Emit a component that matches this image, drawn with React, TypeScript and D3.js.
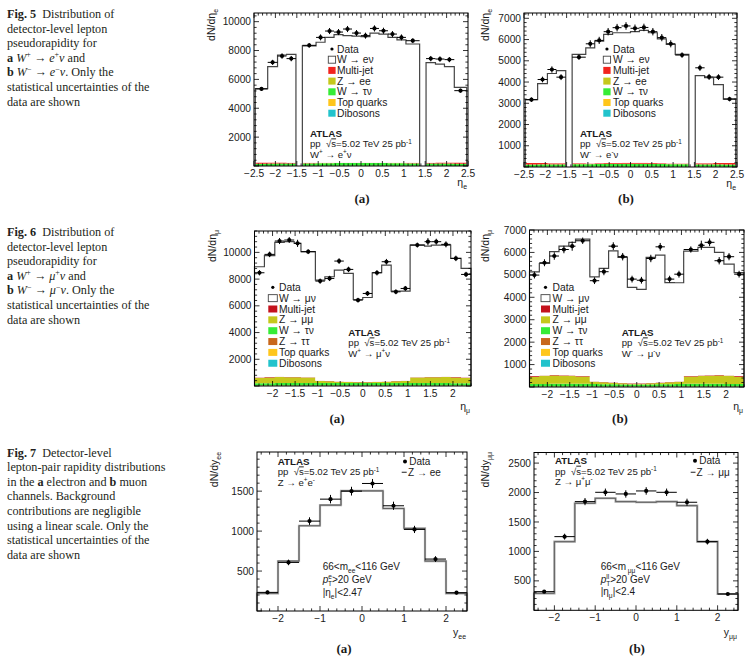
import * as d3 from 'd3'
import React from 'react'

// ---------- binning ----------
const eLo = [-2.47, -2.18, -1.95, -1.74, -1.37, -1.05, -0.84, -0.63, -0.42, -0.21, 0, 0.21, 0.42, 0.63, 0.84, 1.05, 1.52, 1.74, 1.95, 2.18]
const eHi = [-2.18, -1.95, -1.74, -1.52, -1.05, -0.84, -0.63, -0.42, -0.21, 0, 0.21, 0.42, 0.63, 0.84, 1.05, 1.37, 1.74, 1.95, 2.18, 2.47]
const muEdges = [-2.4, -2.18, -1.95, -1.74, -1.52, -1.37, -1.05, -0.84, -0.63, -0.42, -0.21, 0, 0.21, 0.42, 0.63, 0.84, 1.05, 1.37, 1.52, 1.74, 1.95, 2.18, 2.4]
const zEdges = [-2.5, -2, -1.5, -1, -0.5, 0, 0.5, 1, 1.5, 2, 2.5]

// ---------- Fig 5a  W+ -> e+ nu ----------
const ePlusData = [5340, 7180, 7620, 7440, 8360, 8910, 9350, 9280, 9490, 9210, 9030, 9530, 9370, 9140, 8910, 8680, 7440, 7410, 7370, 5220]
const ePlusSignal = [5110, 6640, 7450, 7510, 8100, 8350, 8680, 8870, 8800, 8770, 8730, 8980, 8910, 8680, 8510, 8230, 6930, 6820, 6640, 5200]
const ePlusMultijet = [90, 70, 60, 50, 30, 25, 25, 20, 20, 20, 20, 20, 20, 25, 25, 30, 50, 60, 70, 90]
const ePlusZee = [20, 15, 12, 10, 10, 8, 8, 8, 8, 8, 8, 8, 8, 8, 8, 10, 10, 12, 15, 20]
const ePlusWtau = [130, 150, 160, 160, 170, 180, 185, 190, 190, 190, 190, 190, 190, 185, 180, 170, 160, 160, 150, 130]
const ePlusTop = [4, 5, 6, 6, 8, 9, 10, 10, 10, 10, 10, 10, 10, 10, 9, 8, 6, 6, 5, 4]
const ePlusDib = [2, 2, 3, 3, 3, 3, 3, 3, 3, 3, 3, 3, 3, 3, 3, 3, 3, 3, 2, 2]

// ---------- Fig 5b  W- -> e- nu ----------
const eMinusData = [3170, 4120, 4590, 4230, 5170, 5800, 5960, 6370, 6560, 6640, 6530, 6570, 6370, 6090, 5800, 5270, 4670, 4240, 4230, 3200]
const eMinusSignal = [2980, 3740, 4220, 4365, 5130, 5440, 5755, 6055, 6130, 6125, 6170, 6235, 6130, 5850, 5600, 5135, 4125, 4020, 3690, 3010]
const eMinusMultijet = [70, 60, 50, 45, 35, 30, 30, 35, 40, 45, 50, 45, 40, 35, 30, 30, 45, 50, 60, 70]
const eMinusZee = [15, 12, 10, 8, 8, 6, 6, 6, 6, 6, 6, 6, 6, 6, 6, 8, 8, 10, 12, 15]
const eMinusWtau = [100, 110, 115, 115, 120, 125, 130, 135, 135, 135, 135, 135, 135, 130, 125, 120, 115, 115, 110, 100]
const eMinusTop = [3, 4, 5, 5, 6, 7, 7, 8, 8, 8, 8, 8, 8, 7, 7, 6, 5, 5, 4, 3]
const eMinusDib = [2, 2, 2, 2, 2, 2, 2, 2, 2, 2, 2, 2, 2, 2, 2, 2, 2, 2, 2, 2]

// ---------- Fig 6a  W+ -> mu+ nu ----------
const muPlusData = [8475, 9850, 10850, 10925, 10675, 10050, 7850, 8050, 9350, 8725, 6425, 6925, 8475, 9300, 7050, 7300, 10550, 10800, 10800, 10600, 9550, 8350]
const muPlusSignal = [8295, 9080, 10065, 10120, 10005, 9400, 7530, 7810, 8335, 8105, 6170, 6320, 8155, 8710, 6735, 6705, 9900, 9805, 9870, 9865, 8880, 8170]
const muPlusMultijet = [30, 25, 20, 20, 20, 20, 15, 15, 15, 15, 15, 15, 15, 15, 15, 15, 20, 20, 20, 20, 25, 30]
const muPlusZmm = [400, 430, 440, 430, 420, 400, 150, 120, 100, 80, 70, 70, 80, 100, 120, 150, 400, 420, 430, 440, 430, 400]
const muPlusWtau = [170, 185, 195, 200, 200, 200, 200, 200, 195, 195, 190, 190, 195, 195, 200, 200, 200, 200, 200, 195, 185, 170]
const muPlusZtt = [15, 15, 15, 15, 15, 15, 15, 15, 15, 15, 15, 15, 15, 15, 15, 15, 15, 15, 15, 15, 15, 15]
const muPlusTop = [10, 10, 10, 10, 10, 10, 10, 10, 10, 10, 10, 10, 10, 10, 10, 10, 10, 10, 10, 10, 10, 10]
const muPlusDib = [5, 5, 5, 5, 5, 5, 5, 5, 5, 5, 5, 5, 5, 5, 5, 5, 5, 5, 5, 5, 5, 5]

// ---------- Fig 6b  W- -> mu- nu ----------
const muMinusData = [4990, 5540, 5840, 6130, 6280, 6520, 4740, 5140, 6280, 5810, 4810, 4760, 5730, 6250, 4810, 5030, 6130, 6320, 6450, 5630, 5810, 5030]
const muMinusSignal = [4650, 4990, 5500, 5760, 5940, 6100, 4660, 5070, 5870, 5600, 4280, 4190, 5600, 5680, 4430, 4400, 5570, 5710, 5700, 5470, 4960, 4610]
const muMinusMultijet = [25, 20, 20, 20, 20, 20, 15, 15, 15, 15, 15, 15, 15, 15, 15, 15, 20, 20, 20, 20, 20, 25]
const muMinusZmm = [330, 360, 370, 360, 350, 330, 100, 80, 60, 45, 35, 35, 45, 60, 80, 100, 330, 350, 360, 370, 360, 330]
const muMinusWtau = [110, 115, 120, 120, 120, 120, 110, 105, 100, 95, 90, 90, 95, 100, 105, 110, 120, 120, 120, 120, 115, 110]
const muMinusZtt = [10, 10, 10, 10, 10, 10, 10, 10, 10, 10, 10, 10, 10, 10, 10, 10, 10, 10, 10, 10, 10, 10]
const muMinusTop = [8, 8, 8, 8, 8, 8, 8, 8, 8, 8, 8, 8, 8, 8, 8, 8, 8, 8, 8, 8, 8, 8]
const muMinusDib = [4, 4, 4, 4, 4, 4, 4, 4, 4, 4, 4, 4, 4, 4, 4, 4, 4, 4, 4, 4, 4, 4]

// ---------- Fig 7  Z rapidity ----------
const zeeData = [233, 608, 1125, 1400, 1500, 1596, 1317, 1021, 650, 229]
const zeeMC = [221, 625, 1067, 1325, 1504, 1504, 1283, 1033, 625, 221]
const zmmData = [317, 1251, 1846, 2004, 1976, 2027, 2004, 1835, 1166, 277]
const zmmMC = [289, 1166, 1818, 1903, 1846, 1835, 1846, 1778, 1166, 277]

const COL = {
  mj5: '#f2241e',
  mj6: '#c4121c',
  zll: '#c5c81c',
  wtau: '#36ec36',
  ztt: '#c8671c',
  top: '#ffc61c',
  dib: '#22c3cc',
}

const SANS = 'Liberation Sans, Arial, sans-serif'
const SERIF = 'Liberation Serif, Times New Roman, serif'
const INK = '#1a1a1a'

// ---------- rich text ----------
type Seg = { t: string; s?: 'sup' | 'sub'; b?: boolean; i?: boolean; o?: boolean; dx?: number }

function Rich({
  x, y, segs, size, anchor, transform, family = SANS, weight, fill = INK,
}: {
  x?: number; y?: number; segs: Seg[]; size: number; anchor?: string; transform?: string
  family?: string; weight?: string; fill?: string
}) {
  let cur = 0
  return (
    <text x={x} y={y} fontSize={size} textAnchor={anchor} transform={transform}
      fontFamily={family} fontWeight={weight} fill={fill} style={{ whiteSpace: 'pre' }}>
      {segs.map((g, k) => {
        const target = g.s === 'sup' ? -size * 0.4 : g.s === 'sub' ? size * 0.3 : 0
        const dy = target - cur
        cur = target
        return (
          <tspan key={k} dy={dy} dx={g.dx} fontSize={g.s ? size * 0.66 : undefined}
            fontWeight={g.b ? 'bold' : undefined} fontStyle={g.i ? 'italic' : undefined}
            textDecoration={g.o ? 'overline' : undefined}>{g.t}</tspan>
        )
      })}
    </text>
  )
}

// ---------- helpers ----------
function edgesLo(e: number[]) { return e.slice(0, -1) }
function edgesHi(e: number[]) { return e.slice(1) }

function segmentsOf(lo: number[], hi: number[]) {
  const segs: number[][] = []
  lo.forEach((l, i) => {
    if (i === 0 || Math.abs(l - hi[i - 1]) > 1e-6) segs.push([])
    segs[segs.length - 1].push(i)
  })
  return segs
}

function tickVals(d0: number, d1: number, step: number) {
  const out: number[] = []
  const k0 = Math.ceil(d0 / step - 1e-9)
  const k1 = Math.floor(d1 / step + 1e-9)
  for (let k = k0; k <= k1; k++) out.push(+(k * step).toFixed(6))
  return out
}

const fmtX = (v: number) => (v < 0 ? '\u2212' : '') + String(+Math.abs(v).toFixed(2))

type Layer = { color: string; values: number[] }

type PanelProps = {
  x0: number; x1: number; y0: number; y1: number
  xDomain: [number, number]; yDomain: [number, number]
  xMajor: number; xMinor: number; yMajor: number; yMinor: number
  lo: number[]; hi: number[]
  layers: Layer[]
  mc: number[]
  data: number[]
  zStyle?: boolean
  yTitle: Seg[]; yTitleX: number; yTitleY: number
  xTitle: Seg[]; xTitleY: number
  label: string; labelX: number; labelY: number
  children?: React.ReactNode
}

function Panel(p: PanelProps) {
  const x = d3.scaleLinear().domain(p.xDomain).range([p.x0, p.x1])
  const y = d3.scaleLinear().domain(p.yDomain).range([p.y1, p.y0])
  const segs = segmentsOf(p.lo, p.hi)

  // stacked backgrounds, bottom to top
  const n = p.lo.length
  let lower = new Array(n).fill(0)
  const bands: { d: string; color: string }[] = []
  const band = (low: number[], up: number[]) => {
    let d = ''
    segs.forEach((s) => {
      const pts: string[] = []
      s.forEach((i) => { pts.push(`${x(p.lo[i])},${y(up[i])}`, `${x(p.hi[i])},${y(up[i])}`) })
      ;[...s].reverse().forEach((i) => { pts.push(`${x(p.hi[i])},${y(low[i])}`, `${x(p.lo[i])},${y(low[i])}`) })
      d += 'M' + pts.join('L') + 'Z'
    })
    return d
  }
  p.layers.forEach((l) => {
    const upper = lower.map((v, i) => v + l.values[i])
    bands.push({ d: band(lower, upper), color: l.color })
    lower = upper
  })
  const total = p.zStyle ? p.mc : lower.map((v, i) => v + p.mc[i])
  const signalBand = p.zStyle ? '' : band(lower, total)

  let line = ''
  segs.forEach((s) => {
    line += `M${x(p.lo[s[0]])},${y(0)}`
    s.forEach((i) => { line += `L${x(p.lo[i])},${y(total[i])}L${x(p.hi[i])},${y(total[i])}` })
    line += `L${x(p.hi[s[s.length - 1]])},${y(0)}`
  })

  const xMaj = tickVals(p.xDomain[0], p.xDomain[1], p.xMajor)
  const xMin = tickVals(p.xDomain[0], p.xDomain[1], p.xMinor)
  const yMaj = tickVals(p.yDomain[0], p.yDomain[1], p.yMajor)
  const yMin = tickVals(p.yDomain[0], p.yDomain[1], p.yMinor)
  const L = 5, l = 2.6

  return (
    <g>
      {bands.map((b, i) => <path key={i} d={b.d} fill={b.color} />)}
      {signalBand && <path d={signalBand} fill="#fff" />}
      {p.zStyle ? (
        <g fill="none">
          <path d={line} stroke="#a4a4a4" strokeWidth={2.2} />
          <path d={line} stroke="#505050" strokeWidth={0.8} />
        </g>
      ) : (
        <path d={line} fill="none" stroke="#444" strokeWidth={1.2} />
      )}
      {/* data */}
      <g stroke="#000" strokeWidth={1}>
        {p.data.map((v, i) => {
          const w = p.hi[i] - p.lo[i]
          const err = Math.sqrt(v / w)
          const cx = x((p.lo[i] + p.hi[i]) / 2)
          return (
            <g key={i}>
              <line x1={x(p.lo[i])} x2={x(p.hi[i])} y1={y(v)} y2={y(v)} />
              <line x1={cx} x2={cx} y1={y(v - err)} y2={y(v + err)} />
              <circle cx={cx} cy={y(v)} r={2.1} fill="#000" stroke="none" />
            </g>
          )
        })}
      </g>
      {/* frame and ticks */}
      <rect x={p.x0} y={p.y0} width={p.x1 - p.x0} height={p.y1 - p.y0} fill="none" stroke="#000" strokeWidth={1} />
      <g stroke="#000" strokeWidth={0.8}>
        {xMin.map((v, i) => {
          const len = xMaj.includes(v) ? L : l
          return (
            <g key={'x' + i}>
              <line x1={x(v)} x2={x(v)} y1={p.y1} y2={p.y1 - len} />
              <line x1={x(v)} x2={x(v)} y1={p.y0} y2={p.y0 + len} />
            </g>
          )
        })}
        {yMin.map((v, i) => {
          const len = yMaj.includes(v) ? L : l
          return (
            <g key={'y' + i}>
              <line x1={p.x0} x2={p.x0 + len} y1={y(v)} y2={y(v)} />
              <line x1={p.x1} x2={p.x1 - len} y1={y(v)} y2={y(v)} />
            </g>
          )
        })}
      </g>
      <g fontFamily={SANS} fontSize={10.2} fill={INK}>
        {xMaj.map((v) => (
          <text key={v} x={x(v)} y={p.y1 + 10.5} textAnchor="middle">{fmtX(v)}</text>
        ))}
        {yMaj.filter((v) => v > 0).map((v) => (
          <text key={v} x={p.x0 - 3} y={y(v) + 3.6} textAnchor="end">{v}</text>
        ))}
      </g>
      <Rich segs={p.yTitle} size={10.5} anchor="end"
        transform={`translate(${p.yTitleX},${p.yTitleY}) rotate(-90)`} />
      <Rich segs={p.xTitle} size={10.5} anchor="end" x={p.x1 - 1} y={p.xTitleY} />
      <text x={p.labelX} y={p.labelY} textAnchor="middle" fontFamily={SERIF} fontWeight="bold"
        fontSize={13} fill={INK}>{p.label}</text>
      {p.children}
    </g>
  )
}

type LegendEntry = { kind: 'data' | 'box'; color?: string; text: string }

function StackLegend({ bx, tx, yc, dy, bw, bh, entries }: {
  bx: number; tx: number; yc: number; dy: number; bw: number; bh: number; entries: LegendEntry[]
}) {
  return (
    <g fontFamily={SANS} fontSize={10.3} fill={INK}>
      {entries.map((e, i) => {
        const cy = yc + i * dy
        return (
          <g key={i}>
            {e.kind === 'data' ? (
              <circle cx={bx + bw / 2} cy={cy} r={1.6} fill="#000" />
            ) : (
              <rect x={bx} y={cy - bh / 2} width={bw} height={bh} fill={e.color ?? '#fff'}
                stroke={e.color ? 'none' : '#444'} strokeWidth={0.9} />
            )}
            <text x={tx} y={cy + 3.6} style={{ whiteSpace: 'pre' }}>{e.text}</text>
          </g>
        )
      })}
    </g>
  )
}

function AtlasLabel({ x, y, last }: { x: number; y: number; last: Seg[] }) {
  return (
    <g>
      <text x={x} y={y} fontFamily={SANS} fontWeight="bold" fontSize={9.8} fill={INK}>ATLAS</text>
      <Rich x={x} y={y + 10.4} size={9.6} segs={[
        { t: 'pp  ' }, { t: '\u221A' }, { t: 's', o: true }, { t: '=5.02 TeV 25 pb' }, { t: '-1', s: 'sup' },
      ]} />
      <Rich x={x} y={y + 20.8} size={9.6} segs={last} />
    </g>
  )
}

function Caption({ x, y, lines }: { x: number; y: number; lines: Seg[][] }) {
  return (
    <g>
      {lines.map((segs, i) => (
        <Rich key={i} x={x} y={y + i * 14.6} size={12.2} family={SERIF} fill="#231f20" segs={segs} />
      ))}
    </g>
  )
}

const capW = (fig: string, lep: string): Seg[][] => [
  [{ t: `Fig. ${fig}`, b: true }, { t: '  Distribution of' }],
  [{ t: 'detector-level lepton' }],
  [{ t: 'pseudorapidity for' }],
  [{ t: 'a', b: true }, { t: ' ' }, { t: 'W', i: true }, { t: '+', s: 'sup' }, { t: ' \u2192 ' }, { t: lep, i: true }, { t: '+', s: 'sup' }, { t: '\u03BD', i: true }, { t: ' and' }],
  [{ t: 'b', b: true }, { t: ' ' }, { t: 'W', i: true }, { t: '\u2212', s: 'sup' }, { t: ' \u2192 ' }, { t: lep, i: true }, { t: '\u2212', s: 'sup' }, { t: '\u03BD', i: true }, { t: '. Only the' }],
  [{ t: 'statistical uncertainties of the' }],
  [{ t: 'data are shown' }],
]

const cap7: Seg[][] = [
  [{ t: 'Fig. 7', b: true }, { t: '  Detector-level' }],
  [{ t: 'lepton-pair rapidity distributions' }],
  [{ t: 'in the ' }, { t: 'a', b: true }, { t: ' electron and ' }, { t: 'b', b: true }, { t: ' muon' }],
  [{ t: 'channels. Background' }],
  [{ t: 'contributions are negligible' }],
  [{ t: 'using a linear scale. Only the' }],
  [{ t: 'statistical uncertainties of the' }],
  [{ t: 'data are shown' }],
]

const legE = (sig: string, zname: string, mj: string): LegendEntry[] => [
  { kind: 'data', text: 'Data' },
  { kind: 'box', text: sig },
  { kind: 'box', color: mj, text: 'Multi-jet' },
  { kind: 'box', color: COL.zll, text: zname },
  { kind: 'box', color: COL.wtau, text: 'W \u2192 \u03C4\u03BD' },
  { kind: 'box', color: COL.top, text: 'Top quarks' },
  { kind: 'box', color: COL.dib, text: 'Dibosons' },
]
const legMu = (): LegendEntry[] => [
  { kind: 'data', text: 'Data' },
  { kind: 'box', text: 'W \u2192 \u03BC\u03BD' },
  { kind: 'box', color: COL.mj6, text: 'Multi-jet' },
  { kind: 'box', color: COL.zll, text: 'Z \u2192 \u03BC\u03BC' },
  { kind: 'box', color: COL.wtau, text: 'W \u2192 \u03C4\u03BD' },
  { kind: 'box', color: COL.ztt, text: 'Z \u2192 \u03C4\u03C4' },
  { kind: 'box', color: COL.top, text: 'Top quarks' },
  { kind: 'box', color: COL.dib, text: 'Dibosons' },
]

const etaE: Seg[] = [{ t: '\u03B7' }, { t: 'e', s: 'sub' }]
const etaMu: Seg[] = [{ t: '\u03B7' }, { t: '\u03BC', s: 'sub' }]
const dNe: Seg[] = [{ t: 'dN/d\u03B7' }, { t: 'e', s: 'sub' }]
const dNmu: Seg[] = [{ t: 'dN/d\u03B7' }, { t: '\u03BC', s: 'sub' }]

export default function App() {
  const muLo = edgesLo(muEdges), muHi = edgesHi(muEdges)
  const zLo = edgesLo(zEdges), zHi = edgesHi(zEdges)

  return (
    <svg width={747} height={667} viewBox="0 0 747 667"
      style={{ position: 'absolute', left: 0, top: 0, background: '#fff' }}>
      <rect width={747} height={667} fill="#fff" />

      <Caption x={7} y={18} lines={capW('5', 'e')} />
      <Caption x={7} y={236} lines={capW('6', '\u03BC')} />
      <Caption x={7} y={456.5} lines={cap7} />

      {/* Fig 5a */}
      <Panel x0={254} x1={468} y0={13} y1={166} xDomain={[-2.5, 2.5]} yDomain={[0, 10600]}
        xMajor={0.5} xMinor={0.1} yMajor={2000} yMinor={400} lo={eLo} hi={eHi}
        layers={[
          { color: COL.dib, values: ePlusDib }, { color: COL.top, values: ePlusTop },
          { color: COL.wtau, values: ePlusWtau }, { color: COL.zll, values: ePlusZee },
          { color: COL.mj5, values: ePlusMultijet },
        ]}
        mc={ePlusSignal} data={ePlusData}
        yTitle={dNe} yTitleX={215} yTitleY={9} xTitle={etaE} xTitleY={186}
        label="(a)" labelX={362} labelY={203}>
        <StackLegend bx={328.3} tx={337} yc={49} dy={10.7} bw={7.3} bh={7} entries={legE('W \u2192 e\u03BD', 'Z \u2192 ee', COL.mj5)} />
        <AtlasLabel x={310} y={137} last={[{ t: 'W' }, { t: '+', s: 'sup' }, { t: ' \u2192 e' }, { t: '+', s: 'sup' }, { t: '\u03BD' }]} />
      </Panel>

      {/* Fig 5b */}
      <Panel x0={524} x1={737} y0={13} y1={167} xDomain={[-2.5, 2.5]} yDomain={[0, 7250]}
        xMajor={0.5} xMinor={0.1} yMajor={1000} yMinor={200} lo={eLo} hi={eHi}
        layers={[
          { color: COL.dib, values: eMinusDib }, { color: COL.top, values: eMinusTop },
          { color: COL.wtau, values: eMinusWtau }, { color: COL.zll, values: eMinusZee },
          { color: COL.mj5, values: eMinusMultijet },
        ]}
        mc={eMinusSignal} data={eMinusData}
        yTitle={dNe} yTitleX={489} yTitleY={9} xTitle={etaE} xTitleY={187}
        label="(b)" labelX={626} labelY={203}>
        <StackLegend bx={603.3} tx={613} yc={49} dy={10.7} bw={7.3} bh={7} entries={legE('W \u2192 e\u03BD', 'Z \u2192 ee', COL.mj5)} />
        <AtlasLabel x={580} y={137} last={[{ t: 'W' }, { t: '-', s: 'sup' }, { t: ' \u2192 e' }, { t: '-', s: 'sup' }, { t: '\u03BD' }]} />
      </Panel>

      {/* Fig 6a */}
      <Panel x0={254.5} x1={471} y0={231} y1={386} xDomain={[-2.4, 2.4]} yDomain={[0, 11600]}
        xMajor={0.5} xMinor={0.1} yMajor={2000} yMinor={400} lo={muLo} hi={muHi}
        layers={[
          { color: COL.dib, values: muPlusDib }, { color: COL.top, values: muPlusTop },
          { color: COL.ztt, values: muPlusZtt }, { color: COL.wtau, values: muPlusWtau },
          { color: COL.zll, values: muPlusZmm }, { color: COL.mj6, values: muPlusMultijet },
        ]}
        mc={muPlusSignal} data={muPlusData}
        yTitle={dNmu} yTitleX={216} yTitleY={230} xTitle={etaMu} xTitleY={410}
        label="(a)" labelX={337} labelY={423}>
        <StackLegend bx={268.3} tx={279} yc={287.3} dy={10.85} bw={9} bh={7} entries={legMu()} />
        <AtlasLabel x={348.3} y={336} last={[{ t: 'W' }, { t: '+', s: 'sup' }, { t: ' \u2192 \u03BC' }, { t: '+', s: 'sup' }, { t: '\u03BD' }]} />
      </Panel>

      {/* Fig 6b */}
      <Panel x0={529.5} x1={744} y0={230} y1={387} xDomain={[-2.4, 2.4]} yDomain={[0, 7000]}
        xMajor={0.5} xMinor={0.1} yMajor={1000} yMinor={200} lo={muLo} hi={muHi}
        layers={[
          { color: COL.dib, values: muMinusDib }, { color: COL.top, values: muMinusTop },
          { color: COL.ztt, values: muMinusZtt }, { color: COL.wtau, values: muMinusWtau },
          { color: COL.zll, values: muMinusZmm }, { color: COL.mj6, values: muMinusMultijet },
        ]}
        mc={muMinusSignal} data={muMinusData}
        yTitle={dNmu} yTitleX={489} yTitleY={230} xTitle={etaMu} xTitleY={410}
        label="(b)" labelX={620} labelY={423}>
        <StackLegend bx={541} tx={552.5} yc={287.3} dy={10.85} bw={9} bh={7} entries={legMu()} />
        <AtlasLabel x={621.7} y={336} last={[{ t: 'W' }, { t: '-', s: 'sup' }, { t: ' \u2192 \u03BC' }, { t: '-', s: 'sup' }, { t: '\u03BD' }]} />
      </Panel>

      {/* Fig 7a */}
      <Panel x0={257} x1={467} y0={452} y1={611} xDomain={[-2.5, 2.5]} yDomain={[0, 1990]}
        xMajor={1} xMinor={0.2} yMajor={500} yMinor={100} lo={zLo} hi={zHi}
        layers={[]} mc={zeeMC} data={zeeData} zStyle
        yTitle={[{ t: 'dN/dy' }, { t: 'ee', s: 'sub' }]} yTitleX={218} yTitleY={452}
        xTitle={[{ t: 'y' }, { t: 'ee', s: 'sub' }]} xTitleY={636}
        label="(a)" labelX={344} labelY={653}>
        <AtlasLabel x={277.7} y={465} last={[{ t: 'Z \u2192 e' }, { t: '+', s: 'sup' }, { t: 'e' }, { t: '-', s: 'sup' }]} />
        <circle cx={405} cy={461.5} r={2} fill="#000" />
        <text x={409.3} y={465} fontFamily={SANS} fontSize={10} fill={INK}>Data</text>
        <line x1={401.7} x2={406.7} y1={472.3} y2={472.3} stroke="#444" strokeWidth={1.2} />
        <text x={408} y={476} fontFamily={SANS} fontSize={10} fill={INK} style={{ whiteSpace: 'pre' }}>{'Z \u2192 ee'}</text>
        <Rich x={322.7} y={570} size={10} segs={[{ t: '66<m' }, { t: 'ee', s: 'sub' }, { t: '<116 GeV' }]} />
        <Rich x={322.7} y={583.3} size={10} segs={[{ t: 'p', i: true }, { t: 'e', s: 'sup' }, { t: 'T', s: 'sub', dx: -4 }, { t: '>20 GeV' }]} />
        <Rich x={322.7} y={596} size={10} segs={[{ t: '|\u03B7' }, { t: 'e', s: 'sub' }, { t: '|<2.47' }]} />
      </Panel>

      {/* Fig 7b */}
      <Panel x0={534} x1={738} y0={452.5} y1={610.3} xDomain={[-2.5, 2.5]} yDomain={[0, 2680]}
        xMajor={1} xMinor={0.2} yMajor={500} yMinor={100} lo={zLo} hi={zHi}
        layers={[]} mc={zmmMC} data={zmmData} zStyle
        yTitle={[{ t: 'dN/dy' }, { t: '\u03BC\u03BC', s: 'sub' }]} yTitleX={489} yTitleY={452}
        xTitle={[{ t: 'y' }, { t: '\u03BC\u03BC', s: 'sub' }]} xTitleY={636}
        label="(b)" labelX={637} labelY={653}>
        <AtlasLabel x={555} y={464.3} last={[{ t: 'Z \u2192 \u03BC' }, { t: '+', s: 'sup' }, { t: '\u03BC' }, { t: '-', s: 'sup' }]} />
        <circle cx={695} cy={460.8} r={2} fill="#000" />
        <text x={699.3} y={464.3} fontFamily={SANS} fontSize={10} fill={INK}>Data</text>
        <line x1={690.7} x2={695.5} y1={472.3} y2={472.3} stroke="#444" strokeWidth={1.2} />
        <text x={696.5} y={476} fontFamily={SANS} fontSize={10} fill={INK} style={{ whiteSpace: 'pre' }}>{'Z \u2192 \u03BC\u03BC'}</text>
        <Rich x={600.7} y={570} size={10} segs={[{ t: '66<m' }, { t: ' \u03BC\u03BC', s: 'sub' }, { t: '<116 GeV' }]} />
        <Rich x={600.7} y={582.5} size={10} segs={[{ t: 'p', i: true }, { t: 'll', s: 'sup' }, { t: 'T', s: 'sub', dx: -3 }, { t: '>20 GeV' }]} />
        <Rich x={600.7} y={595} size={10} segs={[{ t: '|\u03B7' }, { t: '\u03BC', s: 'sub' }, { t: '|<2.4' }]} />
      </Panel>
    </svg>
  )
}
